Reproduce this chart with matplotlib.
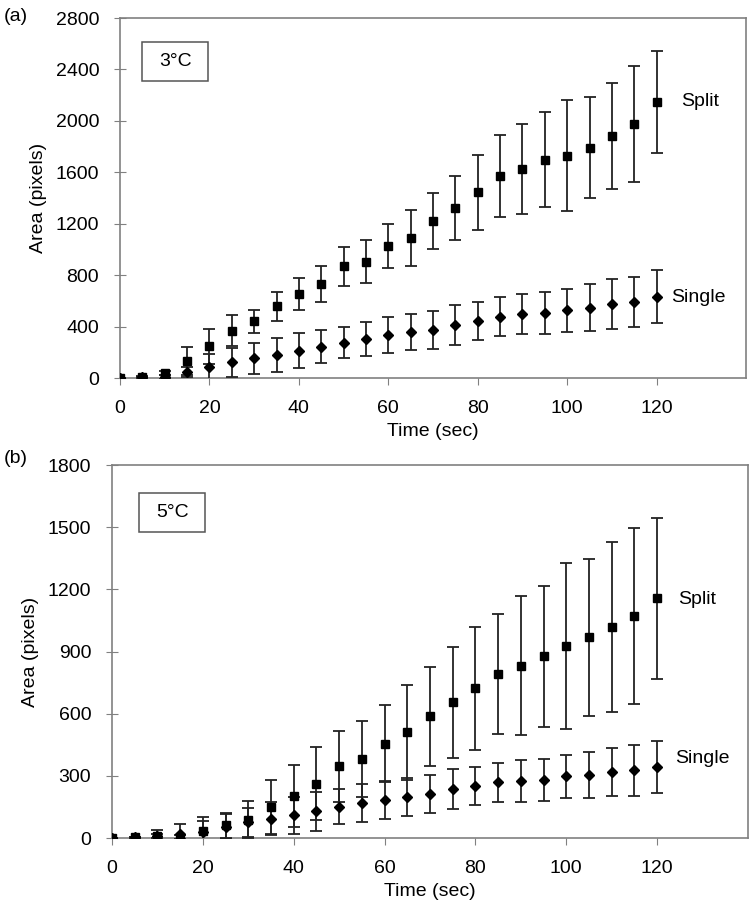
import matplotlib
matplotlib.use("Agg")
import matplotlib.pyplot as plt
from matplotlib.patches import Rectangle

plt.rcParams['font.family'] = ['Liberation Sans', 'DejaVu Sans']

time = [0, 5, 10, 15, 20, 25, 30, 35, 40, 45, 50, 55, 60, 65, 70,
        75, 80, 85, 90, 95, 100, 105, 110, 115, 120]

# (a) 3 C
split_3 = [0, 10, 40, 130, 246, 368, 441, 557, 656, 734, 869, 905, 1029, 1089, 1221,
           1322, 1444, 1569, 1628, 1698, 1729, 1792, 1882, 1973, 2147]
split_3_err = [0, 5, 15, 110, 135, 120, 90, 110, 125, 140, 150, 165, 170, 215, 220,
               250, 290, 320, 350, 370, 430, 395, 415, 450, 400]
single_3 = [0, 5, 10, 44, 83, 122, 153, 179, 213, 244, 275, 303, 334, 355, 376,
            415, 446, 477, 498, 506, 526, 547, 576, 589, 633]
single_3_err = [0, 5, 15, 40, 100, 115, 120, 130, 135, 130, 120, 135, 140, 140, 148,
                155, 147, 153, 157, 162, 167, 183, 195, 195, 208]

# (b) 5 C
split_5 = [0, 3, 8, 3, 32, 61, 88, 148, 204, 262, 346, 381, 455, 510, 587,
           654, 722, 791, 831, 876, 927, 968, 1019, 1072, 1156]
split_5_err = [0, 3, 10, 10, 70, 60, 90, 130, 150, 175, 170, 185, 185, 230, 240,
               270, 295, 290, 335, 340, 400, 380, 410, 425, 390]
single_5 = [0, 3, 11, 19, 30, 55, 76, 93, 109, 129, 151, 169, 185, 196, 214,
            236, 252, 268, 275, 281, 297, 304, 320, 326, 342]
single_5_err = [0, 3, 26, 50, 50, 60, 70, 80, 90, 95, 85, 90, 92, 92, 92,
                95, 92, 95, 100, 102, 106, 112, 115, 124, 125]

x_ticks = [0, 20, 40, 60, 80, 100, 120]
y_ticks_a = [0, 400, 800, 1200, 1600, 2000, 2400, 2800]
y_ticks_b = [0, 300, 600, 900, 1200, 1500, 1800]

fig = plt.figure(figsize=(7.5, 9.1), dpi=100)
ax1 = fig.add_axes([0.16, 0.5846, 0.8347, 0.3956])
ax2 = fig.add_axes([0.1493, 0.0791, 0.848, 0.4099])

spine_col = '#808080'
fs = 14


def panel(ax, split, split_err, single, single_err, yticks, temp, box, split_pos, single_pos):
    ax.errorbar(time, split, yerr=split_err, fmt='s', color='black', ms=6,
                ecolor='#222222', elinewidth=1.3, capsize=4.5, capthick=1.3, zorder=3)
    ax.errorbar(time, single, yerr=single_err, fmt='D', color='black', ms=5,
                ecolor='#222222', elinewidth=1.3, capsize=4.5, capthick=1.3, zorder=3)
    ax.set_xlim(0, 140)
    ax.set_ylim(0, yticks[-1])
    ax.set_xticks(x_ticks)
    ax.set_yticks(yticks)
    for s in ax.spines.values():
        s.set_color(spine_col)
        s.set_linewidth(1.2)
    ax.tick_params(axis='x', direction='out', length=5, color=spine_col, labelsize=fs, pad=11)
    ax.tick_params(axis='y', direction='inout', length=8, color=spine_col, labelsize=fs, pad=11)
    ax.set_xlabel('Time (sec)', fontsize=fs, labelpad=4)
    ax.set_ylabel('Area (pixels)', fontsize=fs, labelpad=6)
    x0, y0, x1, y1 = box
    ax.add_patch(Rectangle((x0, y0), x1 - x0, y1 - y0, transform=ax.transAxes,
                           fc='white', ec='#555555', lw=1.1, zorder=4))
    ax.text((x0 + x1) / 2, (y0 + y1) / 2, temp, transform=ax.transAxes, fontsize=fs,
            ha='center', va='center', zorder=5)
    ax.text(split_pos[0], split_pos[1], 'Split', fontsize=fs, va='center', ha='left')
    ax.text(single_pos[0], single_pos[1], 'Single', fontsize=fs, va='center', ha='left')


panel(ax1, split_3, split_3_err, single_3, single_3_err, y_ticks_a, '3\u00b0C',
      (0.035, 0.825, 0.141, 0.9325), (125.5, 2150), (123.3, 627))
panel(ax2, split_5, split_5_err, single_5, single_5_err, y_ticks_b, '5\u00b0C',
      (0.042, 0.821, 0.147, 0.926), (124.6, 1150), (123.9, 382))

fig.text(0.005, 0.982, '(a)', fontsize=fs, ha='left', va='center')
fig.text(0.005, 0.496, '(b)', fontsize=fs, ha='left', va='center')

fig.savefig('out.png', dpi=100)
